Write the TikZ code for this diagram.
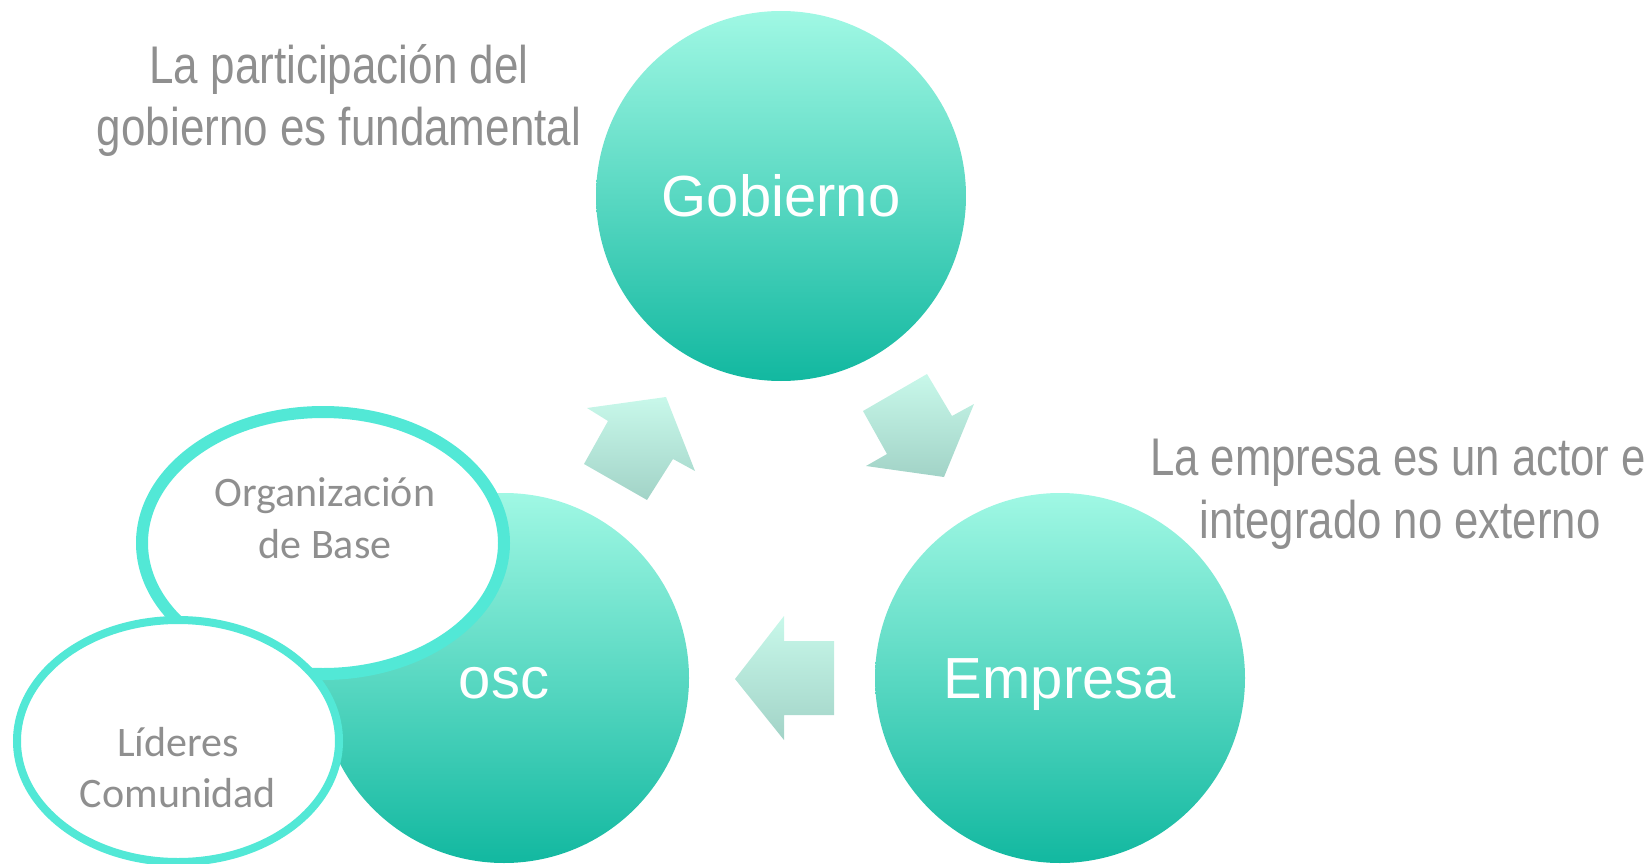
\documentclass[tikz,border=0pt]{standalone}
\usepackage{fontspec}
\setmainfont{Liberation Sans}
\newfontfamily\carlito{Carlito}
\usepackage{graphicx}
\definecolor{circtop}{RGB}{160,248,228}
\definecolor{circbot}{RGB}{18,184,160}
\definecolor{arrtop}{RGB}{200,248,234}
\definecolor{arrbot}{RGB}{162,211,199}
\definecolor{ringcol}{RGB}{82,232,214}
\definecolor{greytext}{RGB}{143,143,143}
\tikzset{
  bigcircle/.style={circle, minimum size=370pt, inner sep=0pt, top color=circtop, bottom color=circbot, draw=none,
    text=white, font=\fontsize{58}{60}\selectfont, text height=41.5pt, text depth=0pt},
  ringell/.style={draw=ringcol, fill=white},
  ringtext/.style={text=greytext, font=\carlito\fontsize{42}{50}\selectfont, anchor=base, inner sep=0pt},
  notetext/.style={text=greytext, font=\fontsize{53}{63}\selectfont, anchor=base, inner sep=0pt},
  blockarrow/.style={top color=arrtop, bottom color=arrbot, draw=none}
}
\begin{document}
\begin{tikzpicture}[x=1pt,y=-1pt]
\useasboundingbox (0,0) rectangle (1649,864);
% circles
\node[bigcircle] (gob) at (781,196) {Gobierno};
\node[bigcircle] (emp) at (1060,678) {Empresa};
\node[bigcircle] (osc) at (504,678) {osc};
% block arrows
\shade[blockarrow] (587,408) -- (666,397) -- (695,471) -- (673,459) -- (647,500) -- (584,464) -- (608,421) -- cycle;
\shade[blockarrow] (863,411) -- (927,374) -- (952,416) -- (974,404) -- (944,477) -- (866,466) -- (887,454) -- cycle;
\shade[blockarrow] (735,679) -- (784,616) -- (784,641) -- (834,641) -- (834,715) -- (784,715) -- (784,740) -- cycle;
% satellite ellipses
\draw[ringell, line width=12pt] (323,543) ellipse [x radius=181, y radius=131];
\node[ringtext] (org1) at (325,506) {Organización};
\node[ringtext] (org2) at (325,558) {de Base};
\draw[ringell, line width=8pt] (178,741) ellipse [x radius=161, y radius=121];
\node[ringtext] (lid1) at (178,756) {Líderes};
\node[ringtext] (lid2) at (178,807) {Comunidad};
% notes
\node[notetext] (n1a) at (339,84) {\scalebox{0.83}[1]{La participación del}};
\node[notetext] (n1b) at (339,146) {\scalebox{0.83}[1]{gobierno es fundamental}};
\node[notetext] (n2a) at (1398,475) {\scalebox{0.825}[1]{La empresa es un actor e}};
\node[notetext] (n2b) at (1400,538) {\scalebox{0.825}[1]{integrado no externo}};
\end{tikzpicture}
\end{document}
